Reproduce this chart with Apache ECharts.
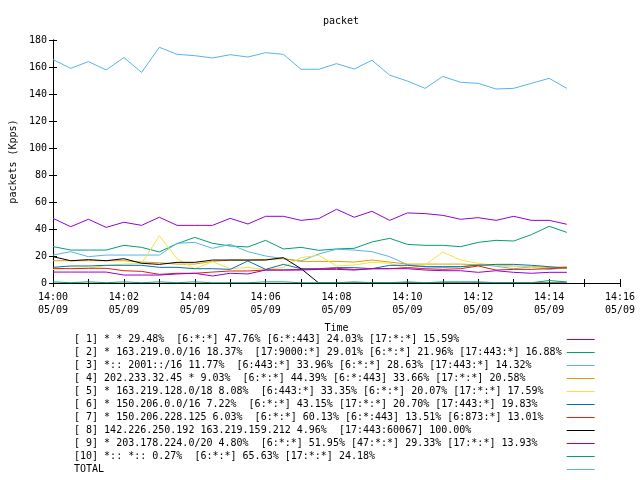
<!DOCTYPE html>
<html><head><meta charset="utf-8">
<script src="https://cdn.jsdelivr.net/npm/echarts@6/dist/echarts.min.js"></script>
<style>html,body{margin:0;padding:0;background:#fff}#c{width:640px;height:480px}</style>
</head><body><div id="c"></div>
<script>
const times = ['14:00:00','14:00:30','14:01:00','14:01:30','14:02:00','14:02:30','14:03:00','14:03:30','14:04:00','14:04:30',
  '14:05:00','14:05:30','14:06:00','14:06:30','14:07:00','14:07:30','14:08:00','14:08:30','14:09:00','14:09:30',
  '14:10:00','14:10:30','14:11:00','14:11:30','14:12:00','14:12:30','14:13:00','14:13:30','14:14:00','14:14:30'];
const xTickLabels = ['14:00','14:02','14:04','14:06','14:08','14:10','14:12','14:14','14:16'];
const dateLabel = '05/09';
const yTicks = [0,20,40,60,80,100,120,140,160,180];

const names = [
  '[ 1] * * 29.48%  [6:*:*] 47.76% [6:*:443] 24.03% [17:*:*] 15.59%',
  '[ 2] * 163.219.0.0/16 18.37%  [17:9000:*] 29.01% [6:*:*] 21.96% [17:443:*] 16.88%',
  '[ 3] *:: 2001::/16 11.77%  [6:443:*] 33.96% [6:*:*] 28.63% [17:443:*] 14.32%',
  '[ 4] 202.233.32.45 * 9.03%  [6:*:*] 44.39% [6:*:443] 33.66% [17:*:*] 20.58%',
  '[ 5] * 163.219.128.0/18 8.08%  [6:443:*] 33.35% [6:*:*] 20.07% [17:*:*] 17.59%',
  '[ 6] * 150.206.0.0/16 7.22%  [6:*:*] 43.15% [17:*:*] 20.70% [17:443:*] 19.83%',
  '[ 7] * 150.206.228.125 6.03%  [6:*:*] 60.13% [6:*:443] 13.51% [6:873:*] 13.01%',
  '[ 8] 142.226.250.192 163.219.159.212 4.96%  [17:443:60067] 100.00%',
  '[ 9] * 203.178.224.0/20 4.80%  [6:*:*] 51.95% [47:*:*] 29.33% [17:*:*] 13.93%',
  '[10] *:: *:: 0.27%  [6:*:*] 65.63% [17:*:*] 24.18%',
  'TOTAL'
];
const colors = ['#9400d3','#009e73','#56b4e9','#e69f00','#f0e442','#0072b2','#e51e10','#000000','#9400d3','#009e73','#56b4e9'];

const s1 = [47.9,41.7,47.2,41.2,45,42.7,48.7,42.7,42.7,42.7,47.9,43.7,49.4,49.4,46.4,47.7,54.6,48.7,53.1,46.4,51.9,51.4,50.1,47.2,48.4,46.4,49.4,46.4,46.4,43.5];
const s2 = [27,24.4,24.4,24.4,27.9,26.4,23,29.1,33.8,29.4,27.4,26.7,31.6,25.2,26.4,24.2,25.2,25.7,30.4,33.1,28.6,27.9,27.9,26.9,30.1,31.6,31.1,35.8,42,37.5];
const s3 = [20.7,23.2,19.5,20.7,20.7,20.7,20.7,29.4,30.1,25.7,28.6,23.2,20,18,16.3,21.5,25,24.4,23.2,19.5,13.5,12,11.5,12,13.5,12.5,10.5,12,10,11.5];
const s4 = [16.5,16.5,16.5,16.5,16.5,15.5,15,14,14,16,17,17,17.5,18,16,16,16,15.5,17,15.5,14,14,14,14,13.5,13,12.5,12.1,11.5,12];
const s5 = [10,11,11,13,14,14.5,35,18,10.5,15.8,10.6,11.6,10,11.6,18.8,20.5,12.6,13.3,15.3,14.6,10.9,13.3,23,17,14.6,13.1,12.1,12.1,10.6,11.3];
const s6 = [11.6,12.6,12.6,13.1,13.1,13.1,11.6,11.6,10.6,10.6,10.1,16.3,10.1,13.8,10.6,10.6,11.4,11.4,10.6,13.1,13.1,12.1,12.1,12.1,13.1,13.8,13.8,13.1,12.1,10.9];
const s7 = [10.9,10.6,10.9,10.9,9.1,8.6,6.4,7.2,7.2,8.1,8.9,8.9,9.6,9.6,10.1,10.4,10.9,10,10.6,10.6,11.4,10.6,10.1,10.6,12.6,9.6,10.1,10.1,10.6,11.4];
const s8 = [19.5,16.5,17.3,16.5,18,14.6,13.8,15.3,15.3,17,17,17,17,18.8,10.6,0,0,0,0,0,0,0,0,0,0,0,0,0,0,0];
const s9 = [8.1,8.1,8.1,8.1,5.9,5.9,5.9,6.7,7.2,5.2,7.2,6.7,9.6,9.6,9.6,10.1,10.1,9.6,10.6,10.6,10.6,9.6,9.1,9.1,7.9,9.1,7.9,7.2,7.9,7.9];
const s10 = [0.8,0.2,0.8,0.2,0.8,0.2,0.8,0.2,0.8,0.2,0.2,0.2,0.8,0.8,0.2,0.2,0.2,0.8,0.2,0.2,0.8,0.2,0.8,0.8,0.8,0.2,0.2,0.2,1.8,0.8];
const total = [165.5,159,164,157.8,167,156,174.6,169.4,168.4,166.7,169.1,167.4,170.6,169.4,158.3,158.3,162.5,158.5,165,154,149.6,144.2,153,148.7,147.9,143.7,144.2,147.9,151.6,144.2];
const allSeries = [s1,s2,s3,s4,s5,s6,s7,s8,s9,s10,total];

function toMin(t){const p=t.split(':').map(Number);return (p[0]-14)*60+p[1]+p[2]/60;}
const FONT = 'DejaVu Sans Mono';
const PADLEN = 81;
const chart = echarts.init(document.getElementById('c'), null, {renderer:'canvas'});
const axisCommon = {axisLine:{lineStyle:{color:'#000',width:1}}, splitLine:{show:false}};
chart.setOption({
  animation:false,
  textStyle:{fontFamily:FONT,fontSize:10,color:'#000'},
  title:{text:'packet',left:336,top:11,textAlign:'center',textStyle:{fontFamily:FONT,fontSize:10,fontWeight:'normal',color:'#000'}},
  grid:{left:52,right:20,top:40,bottom:197,show:false},
  legend:{orient:'vertical',left:74,top:333,padding:0,itemGap:0,itemWidth:28,itemHeight:13,align:'right',
    selectedMode:false,
    itemStyle:{opacity:0},
    lineStyle:{width:1},
    formatter:n=>n.padEnd(PADLEN,' '),
    textStyle:{fontFamily:FONT,fontSize:10,color:'#000',lineHeight:13},
    data:names},
  xAxis:[
    Object.assign({type:'value',min:0,max:16,interval:1,position:'bottom',
      name:'Time',nameLocation:'middle',nameGap:40,nameTextStyle:{fontFamily:FONT,fontSize:10,color:'#000'},
      axisTick:{inside:true,length:4,lineStyle:{color:'#000'}},
      axisLabel:{margin:8,lineHeight:13,fontFamily:FONT,fontSize:10,color:'#000',
        formatter:v=>(v%2===0?xTickLabels[v/2]+'\n'+dateLabel:'')}},axisCommon),
    Object.assign({type:'value',min:0,max:16,interval:1,position:'top',
      axisTick:{inside:true,length:4,lineStyle:{color:'#000'}},axisLabel:{show:false}},axisCommon)
  ],
  yAxis:[
    Object.assign({type:'value',min:yTicks[0],max:yTicks[yTicks.length-1],interval:20,position:'left',
      name:'packets (Kpps)',nameLocation:'middle',nameGap:35,nameRotate:90,
      nameTextStyle:{fontFamily:FONT,fontSize:10,color:'#000'},
      axisTick:{inside:true,length:4,lineStyle:{color:'#000'}},
      axisLabel:{margin:6,fontFamily:FONT,fontSize:10,color:'#000'}},axisCommon),
    Object.assign({type:'value',min:yTicks[0],max:yTicks[yTicks.length-1],interval:20,position:'right',
      axisTick:{inside:true,length:4,lineStyle:{color:'#000'}},axisLabel:{show:false}},axisCommon)
  ],
  series: allSeries.map((arr,k)=>({
    type:'line',name:names[k],symbol:'none',showSymbol:false,
    data:arr.map((v,i)=>[toMin(times[i]),v]),
    lineStyle:{color:colors[k],width:1},itemStyle:{color:colors[k]},
    emphasis:{disabled:true}
  }))
});
</script></body></html>
